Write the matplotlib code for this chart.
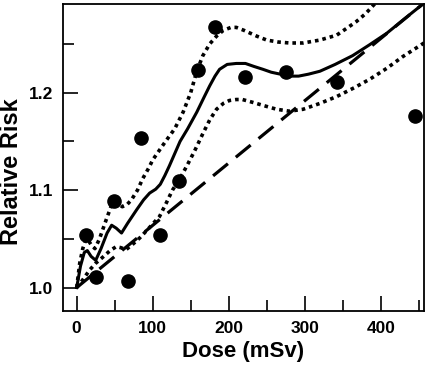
import matplotlib
matplotlib.use("Agg")
import matplotlib.pyplot as plt
from matplotlib.ticker import MultipleLocator

plt.rcParams['font.family'] = ['Liberation Sans', 'DejaVu Sans']
plt.rcParams['font.weight'] = 'bold'

# observed points
obs_dose = [12, 26, 49, 67, 85, 110, 134, 160, 182, 222, 276, 342, 445]
obs_rr = [1.054, 1.011, 1.089, 1.007, 1.154, 1.054, 1.109, 1.223, 1.267, 1.216, 1.221, 1.211, 1.176]

# fitted curve
fit_dose = [0, 5, 10, 14, 19, 25, 32, 40, 46, 52, 59, 67, 79, 88, 96, 104, 110, 116, 122,
            136, 146, 158, 168, 175, 182, 188, 198, 210, 222, 233, 245, 256, 268, 280, 292,
            305, 320, 340, 363, 385, 408, 430, 454, 457]
fit_rr = [1.000, 1.022, 1.036, 1.038, 1.032, 1.028, 1.040, 1.056, 1.064, 1.061, 1.056, 1.066,
          1.080, 1.090, 1.097, 1.101, 1.106, 1.115, 1.125, 1.150, 1.163, 1.180, 1.196, 1.207,
          1.217, 1.224, 1.229, 1.230, 1.230, 1.227, 1.224, 1.221, 1.219, 1.217, 1.217, 1.219,
          1.222, 1.229, 1.238, 1.249, 1.261, 1.275, 1.290, 1.292]

# upper confidence bound
up_dose = [0, 4, 8, 11, 14, 19, 24, 30, 39, 47, 53, 60, 66, 72, 80, 87, 95, 100, 108, 116,
           129, 140, 150, 158, 166, 175, 184, 193, 203, 210, 220, 237, 250, 265, 280, 298,
           320, 342, 357, 368, 380, 392]
up_rr = [1.000, 1.025, 1.040, 1.047, 1.050, 1.044, 1.040, 1.050, 1.070, 1.087, 1.087, 1.083,
         1.085, 1.090, 1.100, 1.112, 1.123, 1.131, 1.140, 1.149, 1.163, 1.180, 1.200, 1.222,
         1.238, 1.250, 1.258, 1.264, 1.267, 1.267, 1.264, 1.258, 1.254, 1.252, 1.251, 1.251,
         1.254, 1.259, 1.267, 1.273, 1.281, 1.291]

# lower confidence bound
lo_dose = [0, 8, 17, 25, 34, 44, 52, 58, 65, 73, 83, 95, 109, 118, 126, 136, 145, 155, 166,
           175, 184, 193, 201, 210, 218, 232, 245, 263, 280, 298, 320, 342, 365, 386, 408,
           429, 445, 457]
lo_rr = [1.000, 1.008, 1.018, 1.025, 1.031, 1.038, 1.042, 1.041, 1.039, 1.044, 1.051, 1.061,
         1.073, 1.087, 1.100, 1.112, 1.125, 1.140, 1.158, 1.172, 1.183, 1.189, 1.192, 1.193,
         1.193, 1.190, 1.187, 1.183, 1.181, 1.183, 1.189, 1.196, 1.205, 1.214, 1.225, 1.237,
         1.245, 1.251]

# linear model
lin_dose = [0, 457]
lin_rr = [1.0, 1.292]

fig = plt.figure(figsize=(4.28, 3.67), dpi=100)
ax = fig.add_axes([0.1472, 0.1526, 0.8435, 0.8365])

ax.plot(lin_dose, lin_rr, color='black', lw=2.3, dashes=(6, 3.2))
ax.plot(up_dose, up_rr, color='black', lw=2.6, linestyle=(0, (1, 1.1)))
ax.plot(lo_dose, lo_rr, color='black', lw=2.6, linestyle=(0, (1, 1.1)))
ax.plot(fit_dose, fit_rr, color='black', lw=2.2)
ax.plot(obs_dose, obs_rr, 'o', color='black', markersize=9.5, clip_on=False)

ax.set_xlim(-18, 457)
ax.set_ylim(0.976, 1.291)
ax.xaxis.set_major_locator(MultipleLocator(100))
ax.xaxis.set_minor_locator(MultipleLocator(50))
ax.yaxis.set_major_locator(MultipleLocator(0.1))
ax.yaxis.set_minor_locator(MultipleLocator(0.05))
ax.yaxis.set_major_formatter(plt.FormatStrFormatter('%.1f'))

ax.tick_params(which='major', direction='in', length=11, width=1.2, labelsize=12.5, pad=7)
ax.tick_params(which='minor', direction='in', length=8, width=1.2)
ax.tick_params(top=False, right=False, which='both')
for s in ax.spines.values():
    s.set_linewidth(1.3)

ax.set_xlabel('Dose (mSv)', fontsize=16, fontweight='bold', labelpad=4)
ax.set_ylabel('Relative Risk', fontsize=17, fontweight='bold')
ax.yaxis.set_label_coords(-0.112, 0.453)

fig.savefig('out.png', dpi=100)
